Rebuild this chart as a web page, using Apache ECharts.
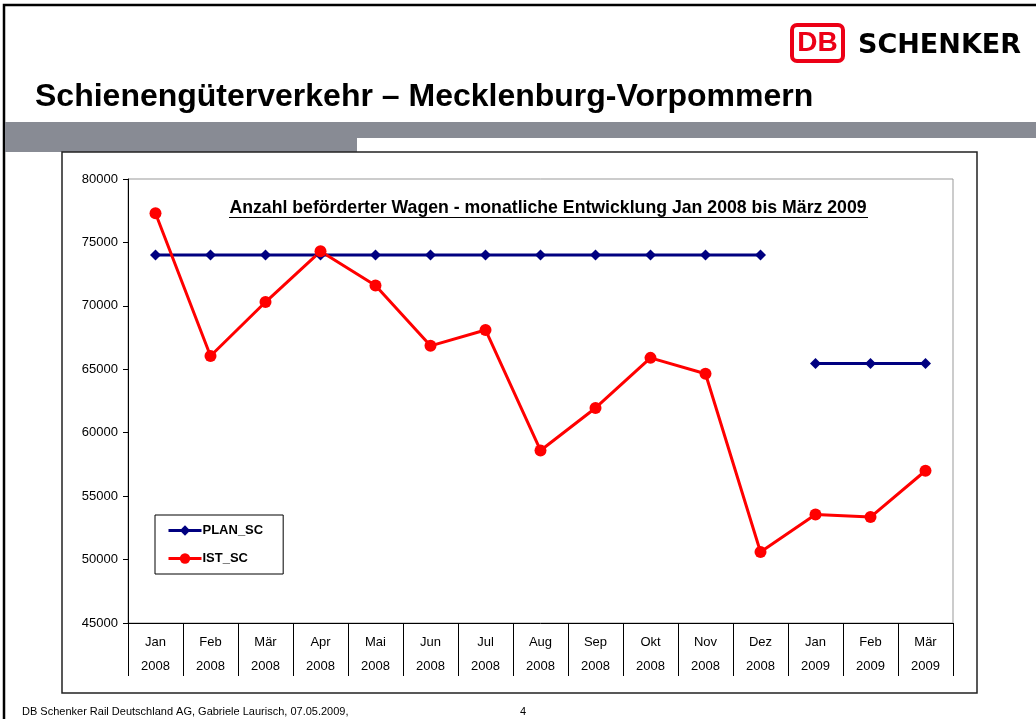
<!DOCTYPE html>
<html>
<head>
<meta charset="utf-8">
<title>Schienengüterverkehr – Mecklenburg-Vorpommern</title>
<script src="https://cdn.jsdelivr.net/npm/echarts@6/dist/echarts.min.js"></script>
<style>
  html, body { margin: 0; padding: 0; background: #fff; }
  #_chart { width: 1036px; height: 719px; }
</style>
</head>
<body>
<div id="_chart"></div>
<script>
var months = ['Jan', 'Feb', 'Mär', 'Apr', 'Mai', 'Jun', 'Jul', 'Aug', 'Sep', 'Okt', 'Nov', 'Dez', 'Jan', 'Feb', 'Mär'];
var years = ['2008', '2008', '2008', '2008', '2008', '2008', '2008', '2008', '2008', '2008', '2008', '2008', '2009', '2009', '2009'];
// plan in two pieces, the line breaks at the year change
var plan2008 = [74000, 74000, 74000, 74000, 74000, 74000, 74000, 74000, 74000, 74000, 74000, 74000, '-', '-', '-'];
var plan2009 = ['-', '-', '-', '-', '-', '-', '-', '-', '-', '-', '-', '-', 65450, 65450, 65450];
var ist = [77300, 66050, 70300, 74300, 71600, 66850, 68100, 58600, 61950, 65900, 64650, 50600, 53550, 53350, 57000];

var categories = [];
for (var i = 0; i < months.length; i++) {
    categories.push(months[i] + '\n' + years[i]);
}

var font = '"Liberation Sans", Arial, sans-serif';
var chart = echarts.init(document.getElementById('_chart'));
var option = {
    animation: false,
    textStyle: { fontFamily: font, color: '#000' },
    graphic: [
        // slide frame
        { type: 'rect', shape: { x: 4, y: 5, width: 1040, height: 720 }, style: { fill: 'none', stroke: '#000', lineWidth: 2.5 } },
        // grey band
        { type: 'rect', shape: { x: 5, y: 122, width: 1031, height: 16 }, style: { fill: '#888b94' } },
        { type: 'rect', shape: { x: 5, y: 138, width: 352, height: 14 }, style: { fill: '#888b94' } },
        // chart box
        { type: 'rect', shape: { x: 62, y: 152, width: 915, height: 541 }, style: { fill: 'none', stroke: '#222', lineWidth: 1.5 } },
        // logo
        { type: 'rect', shape: { x: 792, y: 25, width: 51, height: 36, r: 5 }, style: { fill: '#fff', stroke: '#ec0016', lineWidth: 4 } },
        { type: 'text', x: 817.5, y: 43, style: { text: 'DB', fill: '#ec0016', font: 'bold 28px "Liberation Sans", Arial', align: 'center', verticalAlign: 'middle' } },
        { type: 'text', x: 858, y: 46, style: { text: 'SCHENKER', fill: '#000', font: 'bold 27px "DejaVu Sans"', align: 'left', verticalAlign: 'middle' } },
        // slide title
        { type: 'text', x: 35, y: 97, style: { text: 'Schienengüterverkehr – Mecklenburg-Vorpommern', fill: '#000', font: 'bold 32px ' + font, align: 'left', verticalAlign: 'middle' } },
        // chart title, underlined
        { type: 'text', x: 548, y: 208, style: { text: 'Anzahl beförderter Wagen - monatliche Entwicklung Jan 2008 bis März 2009', fill: '#000', font: 'bold 17.7px ' + font, align: 'center', verticalAlign: 'middle' } },
        { type: 'line', shape: { x1: 229, y1: 217.5, x2: 868, y2: 217.5 }, style: { stroke: '#000', lineWidth: 1.2 } },
        // footer
        { type: 'text', x: 22, y: 712, style: { text: 'DB Schenker Rail Deutschland AG, Gabriele Laurisch, 07.05.2009,', fill: '#000', font: '11px ' + font, verticalAlign: 'middle' } },
        { type: 'text', x: 520, y: 712, style: { text: '4', fill: '#000', font: '11px ' + font, verticalAlign: 'middle' } }
    ],
    legend: {
        orient: 'vertical',
        left: 155,
        top: 515,
        padding: [9, 20, 9, 12],
        itemGap: 15,
        itemWidth: 33,
        itemHeight: 13,
        borderColor: '#000',
        borderWidth: 1,
        backgroundColor: '#fff',
        lineStyle: { width: 3 },
        data: ['PLAN_SC', 'IST_SC'],
        textStyle: { fontFamily: font, fontWeight: 'bold', fontSize: 13, color: '#000', padding: [0, 0, 0, -4] }
    },
    grid: {
        left: 128,
        top: 179,
        width: 825,
        height: 444,
        show: true,
        borderColor: '#999',
        borderWidth: 1
    },
    xAxis: {
        type: 'category',
        data: categories,
        boundaryGap: true,
        axisLine: { lineStyle: { color: '#000', width: 1 } },
        axisTick: { show: true, length: 53, interval: 0, lineStyle: { color: '#000' } },
        axisLabel: { interval: 0, margin: 7, lineHeight: 24, fontSize: 13, color: '#000', fontFamily: font }
    },
    yAxis: {
        type: 'value',
        min: 45000,
        max: 80000,
        interval: 5000,
        axisLine: { show: true, lineStyle: { color: '#000', width: 1 } },
        axisTick: { show: true, length: 5, lineStyle: { color: '#000' } },
        splitLine: { show: false },
        axisLabel: {
            margin: 10, fontSize: 13, color: '#000', fontFamily: font,
            formatter: function (v) { return String(v); }
        }
    },
    series: [
        {
            name: 'PLAN_SC',
            type: 'line',
            data: plan2008,
            symbol: 'diamond',
            symbolSize: 11,
            itemStyle: { color: '#000080' },
            lineStyle: { color: '#000080', width: 3 }
        },
        {
            name: 'PLAN_SC',
            type: 'line',
            data: plan2009,
            symbol: 'diamond',
            symbolSize: 11,
            itemStyle: { color: '#000080' },
            lineStyle: { color: '#000080', width: 3 }
        },
        {
            name: 'IST_SC',
            type: 'line',
            data: ist,
            symbol: 'circle',
            symbolSize: 12,
            itemStyle: { color: '#ff0000' },
            lineStyle: { color: '#ff0000', width: 3 },
            z: 3
        }
    ]
};
chart.setOption(option);
</script>
</body>
</html>
